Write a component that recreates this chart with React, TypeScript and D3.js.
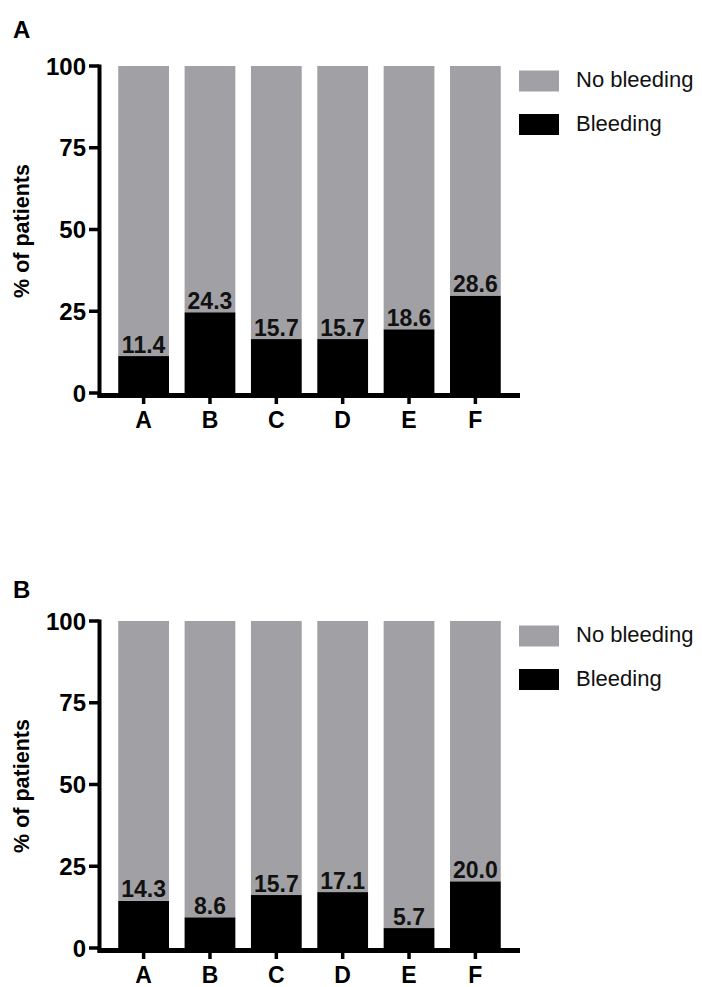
import React from "react";
import * as d3 from "d3";

const categories = ["A", "B", "C", "D", "E", "F"];

// bleeding share as drawn (bar heights) and the printed labels
const bleedingA = [11.3, 24.7, 16.5, 16.5, 19.5, 29.8];
const labelsA = ["11.4", "24.3", "15.7", "15.7", "18.6", "28.6"];
const bleedingB = [14.4, 9.4, 16.2, 17.1, 6.1, 20.4];
const labelsB = ["14.3", "8.6", "15.7", "17.1", "5.7", "20.0"];

const yTicks = [0, 25, 50, 75, 100];
const legendLabels = ["No bleeding", "Bleeding"];
const colors = ["#a1a1a5", "#000000"];

const FONT = "'Liberation Sans', Arial, sans-serif";

interface PanelProps {
  letter: string;
  letterY: number;
  offsetY: number;
  bleeding: number[];
  labels: string[];
}

const Panel: React.FC<PanelProps> = ({ letter, letterY, offsetY, bleeding, labels }) => {
  const x = d3
    .scaleBand()
    .domain(categories)
    .range([99, 520])
    .paddingInner(0.235)
    .paddingOuter(0.29);

  const y = d3.scaleLinear().domain([0, 100]).range([393, 66]);

  const rows = categories.map((c, i) => ({ cat: c, bleed: bleeding[i], noBleed: 100 - bleeding[i] }));
  const series = d3.stack<any>().keys(["bleed", "noBleed"])(rows);

  return (
    <g transform={`translate(0,${offsetY})`}>
      <text x={13} y={letterY} fontFamily={FONT} fontWeight="bold" fontSize={24}>
        {letter}
      </text>

      {/* bars */}
      {series.map((s, si) =>
        s.map((d, i) => (
          <rect
            key={`${si}-${i}`}
            x={x(categories[i])}
            width={x.bandwidth()}
            y={y(d[1])}
            height={y(d[0]) - y(d[1])}
            fill={colors[si === 0 ? 1 : 0]}
          />
        ))
      )}

      {/* value labels */}
      {categories.map((c, i) => (
        <text
          key={c}
          x={(x(c) || 0) + x.bandwidth() / 2}
          y={y(bleeding[i]) - 3.5}
          textAnchor="middle"
          fontFamily={FONT}
          fontWeight="bold"
          fontSize={23}
          fill="#111"
        >
          {labels[i]}
        </text>
      ))}

      {/* y axis */}
      <line x1={99.5} x2={99.5} y1={y(100) - 1.5} y2={y(0) + 4.5} stroke="#000" strokeWidth={4} />
      {yTicks.map((t) => (
        <g key={t}>
          <line x1={89} x2={99} y1={y(t)} y2={y(t)} stroke="#000" strokeWidth={3.5} />
          <text
            x={86}
            y={y(t)}
            dy="0.36em"
            textAnchor="end"
            fontFamily={FONT}
            fontWeight="bold"
            fontSize={24}
          >
            {t}
          </text>
        </g>
      ))}

      {/* x axis */}
      <line x1={97.5} x2={520} y1={y(0) + 2.5} y2={y(0) + 2.5} stroke="#000" strokeWidth={5} />
      {categories.map((c) => {
        const cx = (x(c) || 0) + x.bandwidth() / 2;
        return (
          <g key={c}>
            <line x1={cx} x2={cx} y1={y(0) + 4} y2={y(0) + 11} stroke="#000" strokeWidth={3.5} />
            <text
              x={cx}
              y={y(0) + 35}
              textAnchor="middle"
              fontFamily={FONT}
              fontWeight="bold"
              fontSize={23}
            >
              {c}
            </text>
          </g>
        );
      })}

      <text
        transform={`translate(29,${231}) rotate(-90)`}
        textAnchor="middle"
        fontFamily={FONT}
        fontWeight="bold"
        fontSize={21.5}
      >
        % of patients
      </text>

      {/* legend */}
      {legendLabels.map((l, i) => (
        <g key={l} transform={`translate(519,${70.5 + i * 43.5})`}>
          <rect width={40} height={21} fill={colors[i]} />
          <text x={57} y={16.5} fontFamily={FONT} fontSize={22} fill="#111">
            {l}
          </text>
        </g>
      ))}
    </g>
  );
};

export default function App() {
  return (
    <svg
      width={702}
      height={987}
      style={{ position: "absolute", left: 0, top: 0, background: "#fff" }}
    >
      <Panel letter="A" letterY={38} offsetY={0} bleeding={bleedingA} labels={labelsA} />
      <Panel letter="B" letterY={43} offsetY={555} bleeding={bleedingB} labels={labelsB} />
    </svg>
  );
}
